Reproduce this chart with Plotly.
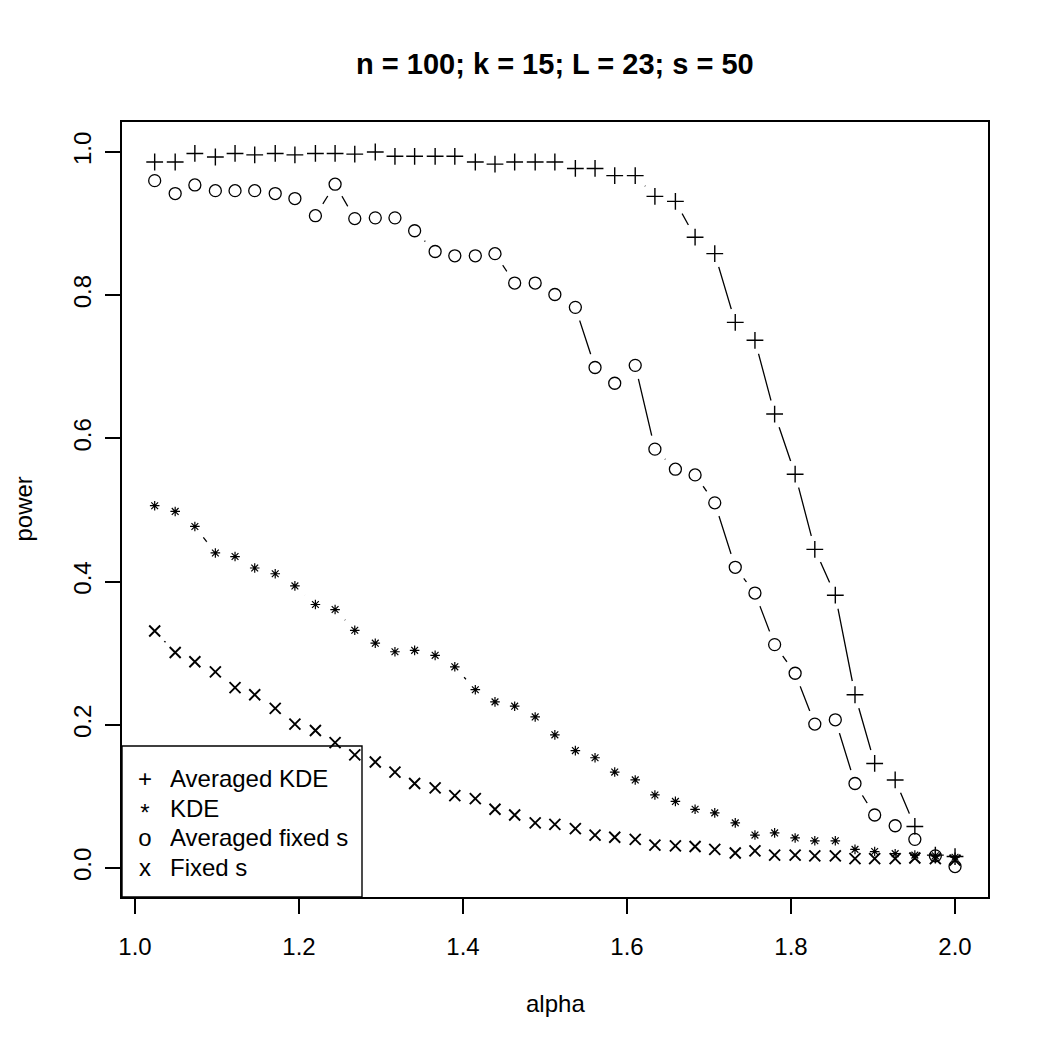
import plotly.graph_objects as go

# ---- data ----
alpha = [1.024, 1.049, 1.073, 1.098, 1.122, 1.146, 1.171, 1.195, 1.220, 1.244,
         1.268, 1.293, 1.317, 1.341, 1.366, 1.390, 1.415, 1.439, 1.463, 1.488,
         1.512, 1.537, 1.561, 1.585, 1.610, 1.634, 1.659, 1.683, 1.707, 1.732,
         1.756, 1.780, 1.805, 1.829, 1.854, 1.878, 1.902, 1.927, 1.951, 1.976, 2.000]

averaged_kde = [0.986, 0.986, 0.998, 0.993, 0.998, 0.996, 0.998, 0.996, 0.998, 0.998,
                0.997, 1.000, 0.994, 0.994, 0.994, 0.994, 0.986, 0.983, 0.986, 0.986,
                0.986, 0.977, 0.977, 0.967, 0.967, 0.938, 0.931, 0.881, 0.858, 0.762,
                0.737, 0.634, 0.550, 0.445, 0.381, 0.242, 0.146, 0.123, 0.058, 0.018, 0.016]

kde = [0.506, 0.498, 0.477, 0.440, 0.435, 0.419, 0.411, 0.394, 0.368, 0.361,
       0.332, 0.314, 0.302, 0.304, 0.297, 0.281, 0.249, 0.232, 0.226, 0.211,
       0.186, 0.164, 0.154, 0.134, 0.123, 0.102, 0.093, 0.082, 0.077, 0.063,
       0.046, 0.049, 0.042, 0.038, 0.038, 0.026, 0.023, 0.020, 0.018, 0.017, 0.015]

averaged_fixed_s = [0.960, 0.942, 0.954, 0.946, 0.946, 0.946, 0.942, 0.935, 0.911, 0.955,
                    0.907, 0.908, 0.908, 0.890, 0.861, 0.855, 0.855, 0.858, 0.817, 0.817,
                    0.801, 0.783, 0.699, 0.677, 0.702, 0.585, 0.557, 0.549, 0.510, 0.420,
                    0.384, 0.312, 0.272, 0.201, 0.207, 0.118, 0.074, 0.059, 0.040, 0.017, 0.002]

fixed_s = [0.331, 0.301, 0.288, 0.274, 0.252, 0.242, 0.223, 0.201, 0.192, 0.175,
           0.158, 0.148, 0.134, 0.118, 0.112, 0.101, 0.097, 0.082, 0.074, 0.063,
           0.061, 0.055, 0.046, 0.043, 0.040, 0.032, 0.031, 0.030, 0.026, 0.021,
           0.024, 0.018, 0.018, 0.017, 0.017, 0.013, 0.013, 0.013, 0.014, 0.013, 0.011]

series_names = ["Averaged KDE", "KDE", "Averaged fixed s", "Fixed s"]
legend_chars = ["+", "*", "o", "x"]
x_ticks = [1.0, 1.2, 1.4, 1.6, 1.8, 2.0]
y_ticks = [0.0, 0.2, 0.4, 0.6, 0.8, 1.0]
title_text = "n = 100; k = 15; L = 23; s = 50"

# ---- styling ----
FONT = "Liberation Sans, Arial, Helvetica, sans-serif"
BLACK = "black"
series = [
    (series_names[0], averaged_kde, dict(symbol="cross-thin-open", size=12, color=BLACK, line=dict(width=1.4, color=BLACK))),
    (series_names[1], kde, dict(symbol="asterisk-open", size=8, color=BLACK, line=dict(width=1.2, color=BLACK))),
    (series_names[2], averaged_fixed_s, dict(symbol="circle-open", size=12, color=BLACK, line=dict(width=1.3, color=BLACK))),
    (series_names[3], fixed_s, dict(symbol="x-thin-open", size=11, color=BLACK, line=dict(width=1.9, color=BLACK))),
]

fig = go.Figure()

# connecting lines
for name, ys, _ in series:
    fig.add_trace(go.Scatter(x=alpha, y=ys, mode="lines", showlegend=False,
                             line=dict(color=BLACK, width=1.3), hoverinfo="skip"))
# white gaps around points (R type="b")
for name, ys, _ in series:
    fig.add_trace(go.Scatter(x=alpha, y=ys, mode="markers", showlegend=False,
                             marker=dict(symbol="circle", size=28, color="white",
                                         line=dict(width=0)), hoverinfo="skip"))
# point symbols
for name, ys, mk in series:
    fig.add_trace(go.Scatter(x=alpha, y=ys, mode="markers", name=name, marker=mk,
                             showlegend=False))

axis_common = dict(
    showline=True, linecolor=BLACK, linewidth=2, mirror=True,
    showgrid=False, zeroline=False, ticks="outside", ticklen=15, tickwidth=1.5,
    tickcolor=BLACK, tickfont=dict(family=FONT, size=24, color=BLACK),
    tickformat=".1f",
)

# plot area in pixels: x 122..988, y 122..897
PW, PH = 866, 775
annotations = [
    dict(text="alpha", xref="paper", yref="paper", x=0.5, y=-(1003 - 897) / PH,
         xanchor="center", yanchor="middle", showarrow=False,
         font=dict(family=FONT, size=24, color=BLACK)),
    dict(text="power", xref="paper", yref="paper", x=-(122 - 23) / PW, y=0.5,
         xanchor="center", yanchor="middle", showarrow=False, textangle=-90,
         font=dict(family=FONT, size=24, color=BLACK)),
]

# manual legend (R-style, characters as symbols)
row_px = [778, 808, 837, 867]
for ch, name, py in zip(legend_chars, series_names, row_px):
    yv = (897 - py) / PH
    annotations.append(dict(text=ch, xref="paper", yref="paper", x=(145 - 122) / PW, y=yv,
                            xanchor="center", yanchor="middle", showarrow=False,
                            height=22, width=16, valign="middle",
                            yshift=(-4 if ch == "*" else 0),
                            font=dict(family=FONT, size=24, color=BLACK)))
    annotations.append(dict(text=name, xref="paper", yref="paper", x=(168 - 122) / PW, y=yv,
                            xanchor="left", yanchor="middle", showarrow=False,
                            height=29, valign="middle",
                            font=dict(family=FONT, size=24, color=BLACK)))

shapes = [dict(type="rect", xref="paper", yref="paper", x0=0, x1=(362 - 122) / PW,
               y0=0, y1=(897 - 746) / PH, line=dict(color=BLACK, width=1.4),
               fillcolor="rgba(0,0,0,0)", layer="above")]

fig.update_layout(
    width=1050, height=1050,
    margin=dict(l=122, r=62, t=122, b=153),
    paper_bgcolor="white", plot_bgcolor="white",
    font=dict(family=FONT, size=24, color=BLACK),
    showlegend=False,
    title=dict(text="<b>" + title_text + "</b>", x=0.5285, xanchor="center",
               y=1 - 64 / 1050, yanchor="middle", yref="container",
               font=dict(family=FONT, size=29, color=BLACK)),
    xaxis=dict(range=[0.98415, 2.0402], tickvals=x_ticks, ticklabelstandoff=12,
               **axis_common),
    yaxis=dict(range=[-0.0405, 1.0419], tickvals=y_ticks, tickangle=-90,
               ticklabelstandoff=4, **axis_common),
    annotations=annotations,
    shapes=shapes,
)

fig.write_html("out.html")
